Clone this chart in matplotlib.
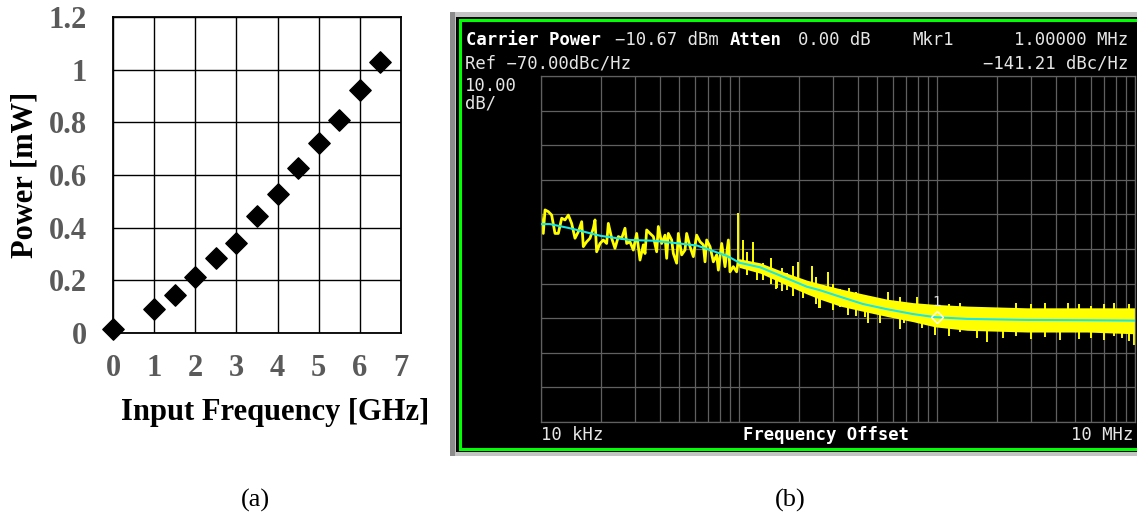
import numpy as np
import matplotlib
matplotlib.use('Agg')
import matplotlib.pyplot as plt
from matplotlib.patches import Rectangle

# (a) power vs input frequency
freq_ghz = [0, 1, 1.5, 2, 2.5, 3, 3.5, 4, 4.5, 5, 5.5, 6, 6.5]
power_mw = [0.015, 0.091, 0.143, 0.211, 0.284, 0.34, 0.443, 0.529, 0.625, 0.722, 0.808, 0.922, 1.028]

# (b) phase noise
# averaged (cyan) trace
avg_freq = [1.0e4, 1.11e4, 1.4e4, 2.0e4, 2.81e4, 3.68e4, 4.64e4, 6.14e4, 7.14e4, 8.7e4, 1.01e5,
            1.28e5, 1.75e5, 2.2e5, 2.56e5, 3.24e5, 4.23e5, 5.59e5, 7.56e5, 9.77e5, 1.42e6,
            2.85e6, 5.73e6, 1.0e7]
avg_db = [-112.8, -112.8, -114.0, -116.2, -117.4, -117.6, -118.2, -119.0, -120.3, -122.0, -124.0,
          -125.3, -128.5, -130.9, -131.9, -133.8, -135.9, -137.4, -138.8, -139.7, -140.2,
          -140.5, -140.6, -140.7]

# raw (yellow) trace, first decade
raw_freq = [1.0e4, 1.027e4, 1.048e4, 1.089e4, 1.132e4, 1.177e4, 1.223e4, 1.272e4, 1.322e4, 1.374e4,
            1.428e4, 1.485e4, 1.544e4, 1.605e4, 1.636e4, 1.701e4, 1.768e4, 1.838e4, 1.874e4, 1.910e4,
            1.986e4, 2.064e4, 2.146e4, 2.188e4, 2.275e4, 2.364e4, 2.458e4, 2.555e4, 2.656e4, 2.708e4,
            2.815e4, 2.926e4, 3.042e4, 3.162e4, 3.287e4, 3.352e4, 3.417e4, 3.552e4, 3.693e4, 3.839e4,
            3.914e4, 4.069e4, 4.229e4, 4.312e4, 4.396e4, 4.570e4, 4.660e4, 4.844e4, 4.938e4, 5.134e4,
            5.337e4, 5.441e4, 5.656e4, 5.880e4, 6.112e4, 6.354e4, 6.606e4, 6.735e4, 6.867e4, 7.139e4,
            7.421e4, 7.715e4, 7.866e4, 8.177e4, 8.500e4, 8.837e4, 9.006e4, 9.363e4, 9.732e4, 9.922e4,
            1.012e5]
raw_db = [-110.2, -115.5, -108.7, -109.2, -110.2, -115.5, -115.5, -111.1, -111.6, -110.2,
          -112.6, -116.9, -115.0, -112.1, -119.3, -117.9, -116.9, -114.0, -111.6, -120.8,
          -118.4, -117.4, -118.4, -112.6, -116.9, -119.8, -116.4, -116.9, -114.0, -118.4,
          -117.9, -120.3, -115.5, -123.2, -118.8, -121.3, -114.5, -115.5, -116.4, -120.8,
          -113.5, -118.4, -116.0, -122.7, -115.5, -117.4, -121.3, -124.1, -115.5, -121.7,
          -120.3, -115.5, -119.3, -122.2, -116.0, -117.9, -118.8, -123.7, -117.4, -119.3,
          -123.7, -121.7, -126.1, -118.4, -125.1, -117.4, -126.6, -125.1, -126.6, -123.2,
          -124.6]

# raw (yellow) trace above 100 kHz: dense band plus the spikes sticking out of it
band_freq = [1.0e5, 1.28e5, 1.75e5, 2.2e5, 2.56e5, 3.24e5, 4.23e5, 5.59e5, 7.56e5, 9.77e5,
             1.42e6, 2.85e6, 5.73e6, 1.0e7]
band_hi = [-122.8, -124.0, -127.0, -129.0, -130.0, -131.5, -133.0, -134.5, -135.5, -136.0,
           -136.5, -137.0, -137.0, -137.0]
band_lo = [-125.3, -127.0, -130.5, -133.0, -134.5, -136.5, -138.0, -139.5, -141.0, -142.5,
           -143.5, -144.0, -144.0, -144.5]
spike_freq = [9.88e4, 1.05e5, 1.1e5, 1.18e5, 1.23e5, 1.32e5, 1.45e5, 1.54e5, 1.56e5, 1.65e5,
              1.75e5, 1.87e5, 1.99e5, 2.10e5, 2.34e5, 2.45e5, 2.54e5, 2.56e5, 2.81e5, 3.0e5,
              3.24e5, 3.55e5, 3.6e5, 3.9e5, 4.34e5, 4.5e5, 5.18e5, 5.66e5, 6.5e5, 6.85e5,
              7.93e5, 8.4e5, 9.77e5, 1.15e6, 1.3e6, 1.59e6, 1.79e6, 2.15e6, 2.5e6, 3.0e6,
              3.5e6, 4.18e6, 4.59e6, 5.2e6, 6.0e6, 7.0e6, 7.8e6, 8.59e6, 9.3e6, 9.9e6]
spike_lo = [-124.0, -124.0, -127.5, -125.0, -129.0, -129.0, -130.0, -131.6, -131.3, -132.0,
            -131.8, -133.5, -130.0, -134.2, -131.0, -136.0, -137.1, -137.0, -133.0, -137.5,
            -136.8, -139.0, -137.0, -139.5, -139.7, -141.5, -141.4, -138.0, -143.0, -141.4,
            -140.0, -142.8, -144.9, -145.0, -144.0, -145.7, -146.9, -145.7, -145.0, -146.0,
            -145.5, -146.3, -140.0, -146.0, -145.8, -146.2, -145.0, -145.7, -146.5, -147.7]
spike_hi = [-109.6, -117.4, -121.0, -117.9, -124.0, -124.0, -122.5, -126.0, -127.0, -125.5,
            -127.0, -125.0, -123.7, -129.0, -124.9, -128.0, -132.0, -132.0, -126.6, -130.0,
            -131.5, -134.0, -131.2, -132.5, -135.0, -133.5, -136.0, -132.4, -134.0, -136.0,
            -133.9, -137.0, -139.0, -136.0, -135.5, -140.0, -141.0, -140.0, -135.7, -136.0,
            -135.5, -141.0, -135.6, -135.8, -136.5, -135.9, -135.5, -141.0, -136.0, -141.0]

W, H = 1137, 520
fig = plt.figure(figsize=(W / 100, H / 100), dpi=100)


def box(x0, y0, x1, y1):
    # pixel box (top-left origin) -> figure fraction rect
    return [x0 / W, 1 - y1 / H, (x1 - x0) / W, (y1 - y0) / H]


serif = 'Liberation Serif'
grey = '#5a5a5a'

# ---------------- (a) ----------------
ax = fig.add_axes(box(113, 17, 401, 333))
ax.scatter(freq_ghz, power_mw, marker='D', s=118, c='black', zorder=3, clip_on=False)
ax.set_xlim(0, 7)
ax.set_ylim(0, 1.2)
ax.set_xticks(range(0, 8))
ax.set_yticks([0, 0.2, 0.4, 0.6, 0.8, 1.0, 1.2])
ax.set_yticklabels(['0', '0.2', '0.4', '0.6', '0.8', '1', '1.2'])
ax.grid(True, color='black', lw=1.0)
for s in ax.spines.values():
    s.set_linewidth(1.3)
ax.tick_params(length=0, labelsize=22, labelcolor=grey)
ax.tick_params(axis='y', pad=19)
ax.tick_params(axis='x', pad=15)
for lab in ax.get_xticklabels() + ax.get_yticklabels():
    lab.set_fontfamily(serif)
    lab.set_fontweight('bold')
ax.set_xlabel('Input Frequency [GHz]', fontsize=22, fontweight='bold', family=serif)
ax.set_ylabel('Power [mW]', fontsize=22, fontweight='bold', family=serif)
ax.xaxis.set_label_coords(0.5625, -0.253)
ax.xaxis.label.set_va('center')
ax.yaxis.set_label_coords(-0.306, 0.5)
ax.yaxis.label.set_va('center')

fig.text(255 / W, 1 - 500 / H, '(a)', family=serif, fontsize=19, ha='center', va='center')
fig.text(790 / W, 1 - 500 / H, '(b)', family=serif, fontsize=19, ha='center', va='center')

# ---------------- (b) screen frame ----------------
bg = fig.add_axes([0, 0, 1, 1])
bg.set_xlim(0, W)
bg.set_ylim(H, 0)
bg.axis('off')
bg.add_patch(Rectangle((450, 12), W - 450, 444, fc='#c4c4c4', ec='none'))
bg.add_patch(Rectangle((450, 12), 5, 444, fc='#8c8c8c', ec='none'))
bg.add_patch(Rectangle((456, 17), W - 456, 435, fc='black', ec='none'))
bg.add_patch(Rectangle((460, 20), W - 458, 429, fc='black', ec='#00ff00', lw=2.2))

mono = 'DejaVu Sans Mono'
fs = 12.4
txt = '#e6e6e6'
bg.text(466, 40, 'Carrier Power', family=mono, fontsize=fs, weight='bold', color='white', va='center')
bg.text(615, 40, '\u221210.67 dBm', family=mono, fontsize=fs, color=txt, va='center')
bg.text(730, 40, 'Atten', family=mono, fontsize=fs, weight='bold', color='white', va='center')
bg.text(798, 40, '0.00 dB', family=mono, fontsize=fs, color=txt, va='center')
bg.text(912, 40, 'Mkr1', family=mono, fontsize=fs, color=txt, va='center')
bg.text(1128, 40, '1.00000 MHz', family=mono, fontsize=fs, color=txt, va='center', ha='right')
bg.text(465, 63, 'Ref \u221270.00dBc/Hz', family=mono, fontsize=fs, color=txt, va='center')
bg.text(1128, 63, '\u2212141.21 dBc/Hz', family=mono, fontsize=fs, color=txt, va='center', ha='right')
bg.text(465, 86, '10.00', family=mono, fontsize=fs, color=txt, va='center')
bg.text(465, 104, 'dB/', family=mono, fontsize=fs, color=txt, va='center')
bg.text(541, 435, '10 kHz', family=mono, fontsize=fs, color=txt, va='center')
bg.text(826, 435, 'Frequency Offset', family=mono, fontsize=fs, weight='bold', color='white',
        va='center', ha='center')
bg.text(1133, 435, '10 MHz', family=mono, fontsize=fs, color=txt, va='center', ha='right')

# ---------------- (b) trace ----------------
ax2 = fig.add_axes(box(541, 76, 1135, 422))
ax2.set_facecolor('black')
ax2.set_xscale('log')
ax2.set_xlim(1e4, 1e7)
ax2.set_ylim(-170, -70)
ax2.set_yticks(np.arange(-170, -69, 10))
gc = '#606060'
ax2.grid(True, which='both', axis='x', color=gc, lw=0.9)
ax2.grid(True, which='major', axis='y', color=gc, lw=0.9)
ax2.tick_params(which='both', length=0, labelbottom=False, labelleft=False)
for s in ax2.spines.values():
    s.set_color(gc)
    s.set_linewidth(0.9)

yel = '#ffff00'
ax2.plot(raw_freq, raw_db, color=yel, lw=2.0, zorder=2)
ax2.fill_between(band_freq, band_lo, band_hi, color=yel, lw=0, zorder=2)
ax2.vlines(spike_freq, spike_lo, spike_hi, color=yel, lw=1.4, zorder=2)
ax2.plot(avg_freq, avg_db, color='#19e6e6', lw=1.5, zorder=3)

mkr_db = np.interp(np.log10(1e6), np.log10(avg_freq), avg_db)
ax2.plot([1e6], [mkr_db], marker='D', ms=6, mfc='none', mec='white', mew=1.0, zorder=4)
ax2.text(1e6, mkr_db + 4.5, '1', color='#e6e6e6', fontsize=10, family=mono, ha='center', va='center',
         zorder=4)

fig.savefig('out.png', dpi=100)
